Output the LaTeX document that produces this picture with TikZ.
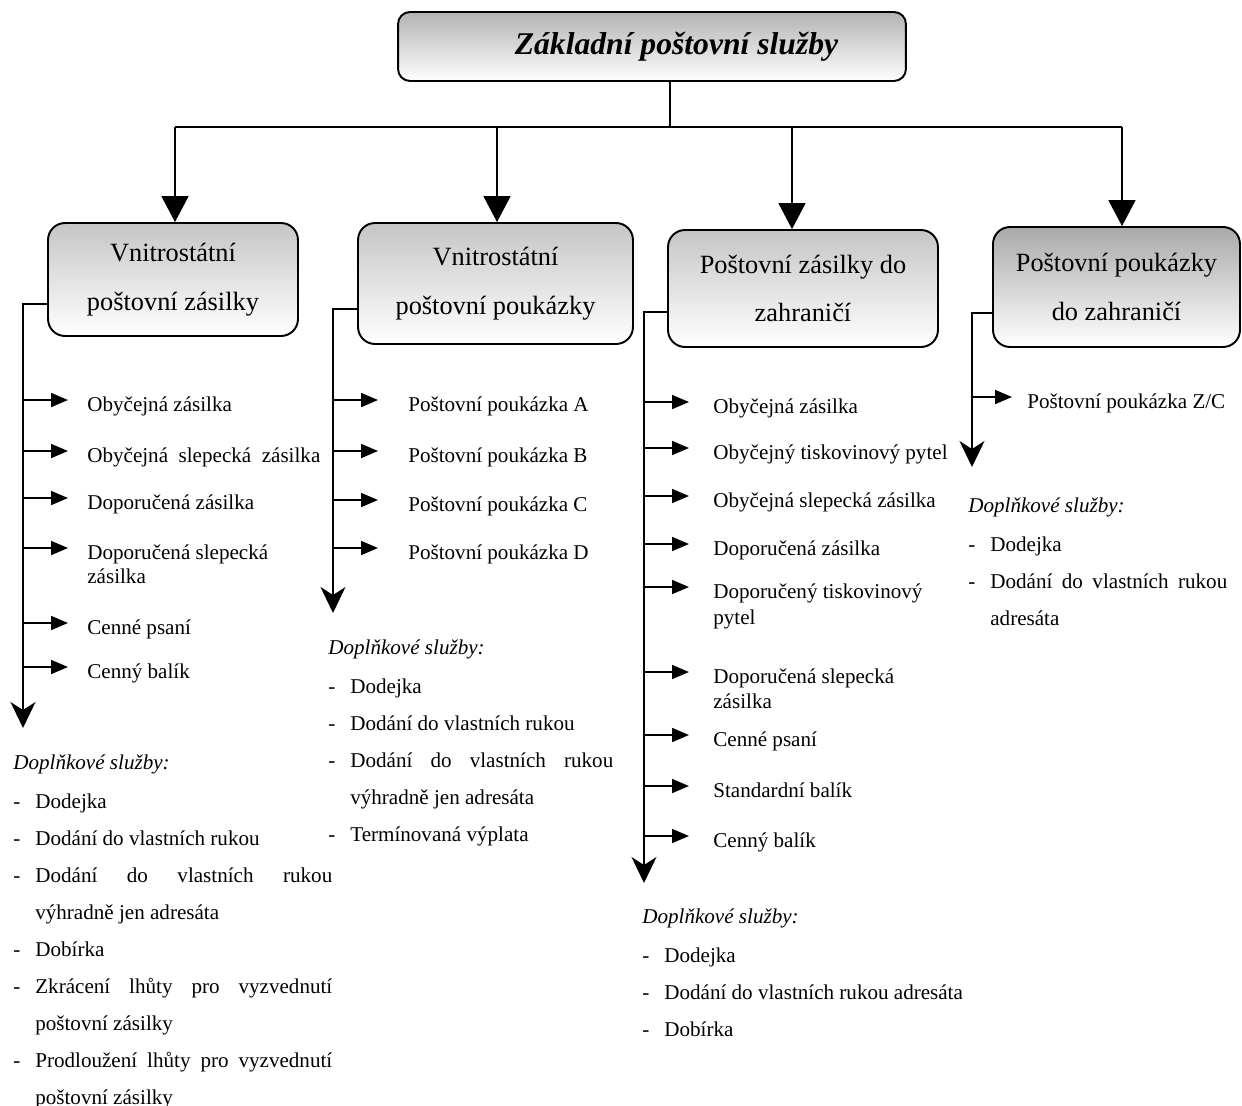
\documentclass[tikz,border=0pt]{standalone}
\usepackage{fontspec}
\setmainfont{Liberation Serif}
\usetikzlibrary{arrows.meta}
\newcommand{\pol}[1]{\par\hangindent=0.44cm\hangafter=1\noindent\makebox[0.44cm][l]{-}#1}

\begin{document}
\begin{tikzpicture}[x=0.02cm,y=-0.02cm,
  kat/.style={draw, line width=1.1pt, rounded corners=0.34cm, top color=gray!45, bottom color=white, align=center, font=\fontsize{15}{27.6}\selectfont},
  polozka/.style={anchor=west, inner sep=0pt, text height=15pt, text depth=2.4pt, font=\fontsize{12}{14}\selectfont},
  dop/.style={anchor=north west, inner sep=0pt, align=justify, font=\fontsize{12}{21.05}\selectfont},
  spoj/.style={draw, line width=1pt},
  sipka/.style={draw, line width=1pt, -{Triangle[length=0.34cm,width=0.28cm]}}]
\useasboundingbox (0,0) rectangle (1242,1106);

\node[kat, rounded corners=0.24cm, top color=gray!60, minimum width=10.16cm, minimum height=1.38cm, font=\fontsize{18}{20}\selectfont\bfseries\itshape] (top) at (652,46.5) {\hspace*{0.98cm}Základní poštovní služby};

\node[kat, minimum width=5cm, minimum height=2.26cm] (b1) at (173,279.5) {Vnitrostátní\\poštovní zásilky};
\node[kat, minimum width=5.5cm, minimum height=2.42cm] (b2) at (495.5,283.5) {Vnitrostátní\\poštovní poukázky};
\node[kat, minimum width=5.4cm, minimum height=2.34cm] (b3) at (803,288.5) {Poštovní zásilky do\\zahraničí};
\node[kat, top color=gray!67, minimum width=4.94cm, minimum height=2.4cm] (b4) at (1116.5,287) {Poštovní poukázky\\do zahraničí};

\coordinate (hub) at (670,127);
\coordinate (h1) at (175,127);
\coordinate (h2) at (497,127);
\coordinate (h3) at (792,127);
\coordinate (h4) at (1122,127);

\path[spoj] (top.south -| hub) -- (hub);
\path[draw, line width=1.5pt] (h1) -- (h4);
\path[spoj, -{Triangle[length=0.52cm,width=0.54cm]}] (h1) -- (b1.north -| h1);
\path[spoj, -{Triangle[length=0.52cm,width=0.54cm]}] (h2) -- (b2.north -| h2);
\path[spoj, -{Triangle[length=0.52cm,width=0.54cm]}] (h3) -- (b3.north -| h3);
\path[spoj, -{Triangle[length=0.52cm,width=0.54cm]}] (h4) -- (b4.north -| h4);

% vnitrostatni zasilky
\coordinate (v1) at (23,304);
\coordinate (e1) at (23,728);
\path[spoj, -{Stealth[length=0.52cm,width=0.5cm,inset=0.16cm]}] (b1.west |- v1) -- (v1) -- (e1);
\node[polozka] (i11) at (87,400) {Obyčejná zásilka};
\node[polozka] (i12) at (87,451) {Obyčejná\ \ slepecká\ \ zásilka};
\node[polozka] (i13) at (87,498) {Doporučená zásilka};
\node[polozka] (i14) at (87,548) {Doporučená slepecká};
\node[polozka] (i14b) at (87,572) {zásilka};
\node[polozka] (i15) at (87,623) {Cenné psaní};
\node[polozka] (i16) at (87,667) {Cenný balík};
\path[sipka, shorten >=0.38cm] (v1 |- i11) -- (i11.west);
\path[sipka, shorten >=0.38cm] (v1 |- i12) -- (i12.west);
\path[sipka, shorten >=0.38cm] (v1 |- i13) -- (i13.west);
\path[sipka, shorten >=0.38cm] (v1 |- i14) -- (i14.west);
\path[sipka, shorten >=0.38cm] (v1 |- i15) -- (i15.west);
\path[sipka, shorten >=0.38cm] (v1 |- i16) -- (i16.west);
\node[dop, text width=6.38cm] (d1) at (13,743) {\noindent\strut\textit{Doplňkové služby:}\par\vspace{1.5pt}
\pol{Dodejka}
\pol{Dodání do vlastních rukou}
\pol{Dodání do vlastních rukou\linebreak výhradně jen adresáta}
\pol{Dobírka}
\pol{Zkrácení lhůty pro vyzvednutí\linebreak poštovní zásilky}
\pol{Prodloužení lhůty pro vyzvednutí\linebreak poštovní zásilky}\par};

% vnitrostatni poukazky
\coordinate (v2) at (333,309);
\coordinate (e2) at (333,613);
\path[spoj, -{Stealth[length=0.52cm,width=0.5cm,inset=0.16cm]}] (b2.west |- v2) -- (v2) -- (e2);
\node[polozka] (i21) at (408,400) {Poštovní poukázka A};
\node[polozka] (i22) at (408,451) {Poštovní poukázka B};
\node[polozka] (i23) at (408,500) {Poštovní poukázka C};
\node[polozka] (i24) at (408,548) {Poštovní poukázka D};
\path[sipka, shorten >=0.6cm] (v2 |- i21) -- (i21.west);
\path[sipka, shorten >=0.6cm] (v2 |- i22) -- (i22.west);
\path[sipka, shorten >=0.6cm] (v2 |- i23) -- (i23.west);
\path[sipka, shorten >=0.6cm] (v2 |- i24) -- (i24.west);
\node[dop, text width=5.7cm] (d2) at (328,628) {\noindent\strut\textit{Doplňkové služby:}\par\vspace{1.5pt}
\pol{Dodejka}
\pol{Dodání do vlastních rukou}
\pol{Dodání do vlastních rukou\linebreak výhradně jen adresáta}
\pol{Termínovaná výplata}\par};

% zasilky do zahranici
\coordinate (v3) at (644,312);
\coordinate (e3) at (644,883);
\path[spoj, -{Stealth[length=0.52cm,width=0.5cm,inset=0.16cm]}] (b3.west |- v3) -- (v3) -- (e3);
\node[polozka] (i31) at (713,402) {Obyčejná zásilka};
\node[polozka] (i32) at (713,448) {Obyčejný tiskovinový pytel};
\node[polozka] (i33) at (713,496) {Obyčejná slepecká zásilka};
\node[polozka] (i34) at (713,544) {Doporučená zásilka};
\node[polozka] (i35) at (713,587) {Doporučený tiskovinový};
\node[polozka] (i35b) at (713,613) {pytel};
\node[polozka] (i36) at (713,672) {Doporučená slepecká};
\node[polozka] (i36b) at (713,697) {zásilka};
\node[polozka] (i37) at (713,735) {Cenné psaní};
\node[polozka] (i38) at (713,786) {Standardní balík};
\node[polozka] (i39) at (713,836) {Cenný balík};
\path[sipka, shorten >=0.48cm] (v3 |- i31) -- (i31.west);
\path[sipka, shorten >=0.48cm] (v3 |- i32) -- (i32.west);
\path[sipka, shorten >=0.48cm] (v3 |- i33) -- (i33.west);
\path[sipka, shorten >=0.48cm] (v3 |- i34) -- (i34.west);
\path[sipka, shorten >=0.48cm] (v3 |- i35) -- (i35.west);
\path[sipka, shorten >=0.48cm] (v3 |- i36) -- (i36.west);
\path[sipka, shorten >=0.48cm] (v3 |- i37) -- (i37.west);
\path[sipka, shorten >=0.48cm] (v3 |- i38) -- (i38.west);
\path[sipka, shorten >=0.48cm] (v3 |- i39) -- (i39.west);
\node[dop, text width=7cm] (d3) at (642,897) {\noindent\strut\textit{Doplňkové služby:}\par\vspace{1.5pt}
\pol{Dodejka}
\pol{Dodání do vlastních rukou adresáta}
\pol{Dobírka}\par};

% poukazky do zahranici
\coordinate (v4) at (972,313);
\coordinate (e4) at (972,467);
\path[spoj, -{Stealth[length=0.52cm,width=0.5cm,inset=0.16cm]}] (b4.west |- v4) -- (v4) -- (e4);
\node[polozka] (i41) at (1027,397) {Poštovní poukázka Z/C};
\path[sipka, shorten >=0.3cm] (v4 |- i41) -- (i41.west);
\node[dop, text width=5.18cm] (d4) at (968,486) {\noindent\strut\textit{Doplňkové služby:}\par\vspace{1.5pt}
\pol{Dodejka}
\pol{Dodání do vlastních rukou\linebreak adresáta}\par};
\end{tikzpicture}
\end{document}
